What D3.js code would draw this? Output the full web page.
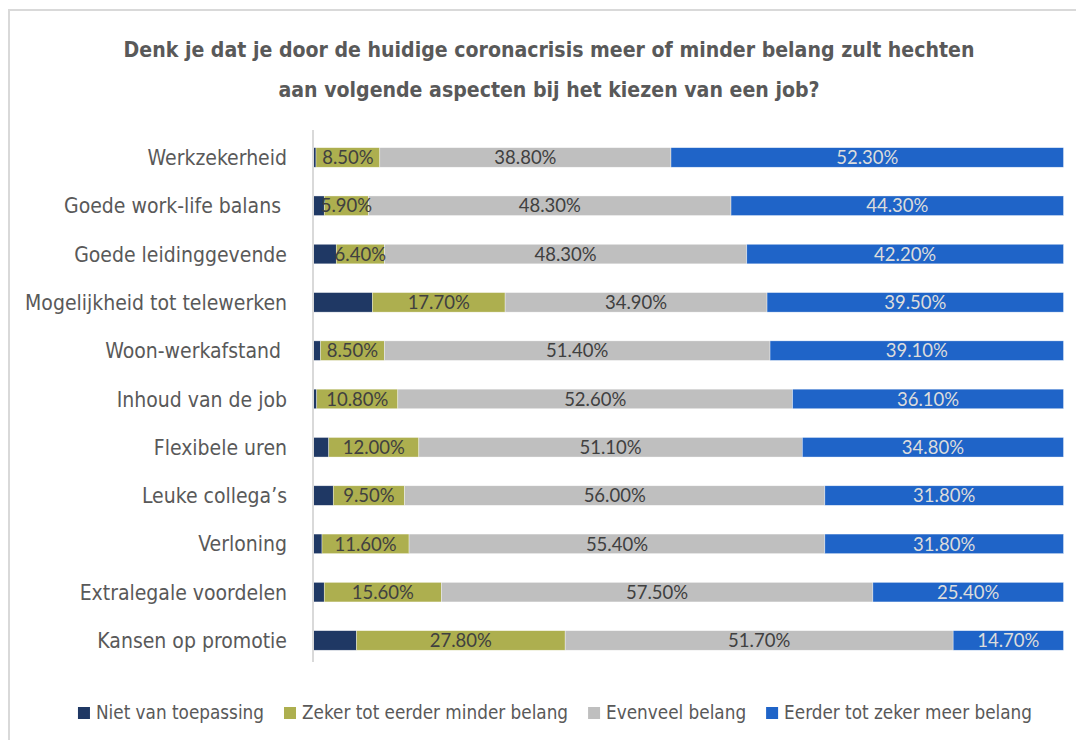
<!DOCTYPE html>
<html>
<head>
<meta charset="utf-8">
<script src="https://cdn.jsdelivr.net/npm/d3@7"></script>
<style>
  html, body { margin: 0; padding: 0; background: #fff; }
  svg { display: block; }
</style>
</head>
<body>
<svg id="chart" width="1076" height="740"></svg>
<script>
const titleLines = [
  "Denk je dat je door de huidige coronacrisis meer of minder belang zult hechten",
  "aan volgende aspecten bij het kiezen van een job?"
];
const categories = [
  "Werkzekerheid",
  "Goede work-life balans ",
  "Goede leidinggevende",
  "Mogelijkheid tot telewerken",
  "Woon-werkafstand ",
  "Inhoud van de job",
  "Flexibele uren",
  "Leuke collega’s",
  "Verloning",
  "Extralegale voordelen",
  "Kansen op promotie"
];
const seriesNames = [
  "Niet van toepassing",
  "Zeker tot eerder minder belang",
  "Evenveel belang",
  "Eerder tot zeker meer belang"
];
const nietVanToepassing = [0.4, 1.5, 3.1, 7.9, 1.0, 0.5, 2.1, 2.7, 1.2, 1.5, 5.8];
const minderBelang      = [8.5, 5.9, 6.4, 17.7, 8.5, 10.8, 12.0, 9.5, 11.6, 15.6, 27.8];
const evenveelBelang    = [38.8, 48.3, 48.3, 34.9, 51.4, 52.6, 51.1, 56.0, 55.4, 57.5, 51.7];
const meerBelang        = [52.3, 44.3, 42.2, 39.5, 39.1, 36.1, 34.8, 31.8, 31.8, 25.4, 14.7];
const seriesColors = ["#1f3864", "#adaf4f", "#bfbfbf", "#1f64c8"];
const labelColors = [null, "#404040", "#404040", "#dcdcdc"];

const seriesValues = [nietVanToepassing, minderBelang, evenveelBelang, meerBelang];
const rows = categories.map((c, i) => {
  const r = { cat: c };
  seriesNames.forEach((s, j) => r[s] = seriesValues[j][i]);
  return r;
});

const svg = d3.select("#chart");
const condensed = "'Liberation Sans Narrow', 'DejaVu Sans Condensed', 'Arial Narrow', sans-serif";

// frame
svg.append("rect").attr("x", 9).attr("y", 10).attr("width", 1200).attr("height", 900)
  .attr("fill", "none").attr("stroke", "#d9d9d9").attr("stroke-width", 2);

// title
svg.append("g").selectAll("text").data(titleLines).join("text")
  .attr("x", 549).attr("y", (d, i) => 57 + i * 40)
  .attr("text-anchor", "middle")
  .attr("font-family", condensed).attr("font-weight", "bold").attr("font-size", 21.1)
  .attr("fill", "#595959")
  .text(d => d);

const x = d3.scaleLinear().domain([0, 1]).range([313, 1063.5]);
const y = d3.scaleBand().domain(categories).range([133.3, 664.6]).paddingInner(0.595).paddingOuter(0.2975);

const stack = d3.stack().keys(seriesNames).offset(d3.stackOffsetExpand);
const stacked = stack(rows);

const layers = svg.append("g").selectAll("g").data(stacked).join("g")
  .attr("fill", (d, i) => seriesColors[i]);
layers.selectAll("rect").data(d => d).join("rect")
  .attr("x", d => x(d[0]))
  .attr("y", d => y(d.data.cat))
  .attr("width", d => x(d[1]) - x(d[0]))
  .attr("height", y.bandwidth())
  .attr("stroke", "#ffffff").attr("stroke-width", 0.6).attr("stroke-opacity", 0.6);

// data labels
const fmt = v => v.toFixed(2) + "%";
stacked.forEach((layer, i) => {
  if (!labelColors[i]) return;
  svg.append("g").selectAll("text").data(layer).join("text")
    .attr("x", d => (x(d[0]) + x(d[1])) / 2)
    .attr("y", d => y(d.data.cat) + y.bandwidth() / 2)
    .attr("dy", "0.36em")
    .attr("text-anchor", "middle")
    .attr("font-family", "Lato, 'Open Sans', sans-serif")
    .attr("font-size", 18.5)
    .attr("fill", labelColors[i])
    .text(d => fmt(d.data[layer.key]));
});

// category axis
const axis = svg.append("g").attr("transform", "translate(313,0)")
  .call(d3.axisLeft(y).tickSize(0).tickPadding(26));
axis.select(".domain").attr("stroke", "#d9d9d9").attr("stroke-width", 2)
  .attr("d", "M0,130V662");
axis.selectAll("text")
  .attr("font-family", condensed).attr("font-size", 21).attr("fill", "#595959")
  .attr("dy", "0.36em").style("white-space", "pre");

// legend
const legend = svg.append("g");
let lx = 0;
seriesNames.forEach((s, i) => {
  const g = legend.append("g");
  g.append("rect").attr("x", 0).attr("y", -12).attr("width", 12).attr("height", 12).attr("fill", seriesColors[i]);
  const t = g.append("text").attr("x", 18).attr("y", 0)
    .attr("font-family", condensed).attr("font-size", 18.75).attr("fill", "#595959").text(s);
  const w = 18 + t.node().getComputedTextLength();
  g.attr("transform", `translate(${lx},0)`);
  lx += w + 20;
});
const totalW = lx - 20;
legend.attr("transform", `translate(${555 - totalW / 2},719)`);
</script>
</body>
</html>
